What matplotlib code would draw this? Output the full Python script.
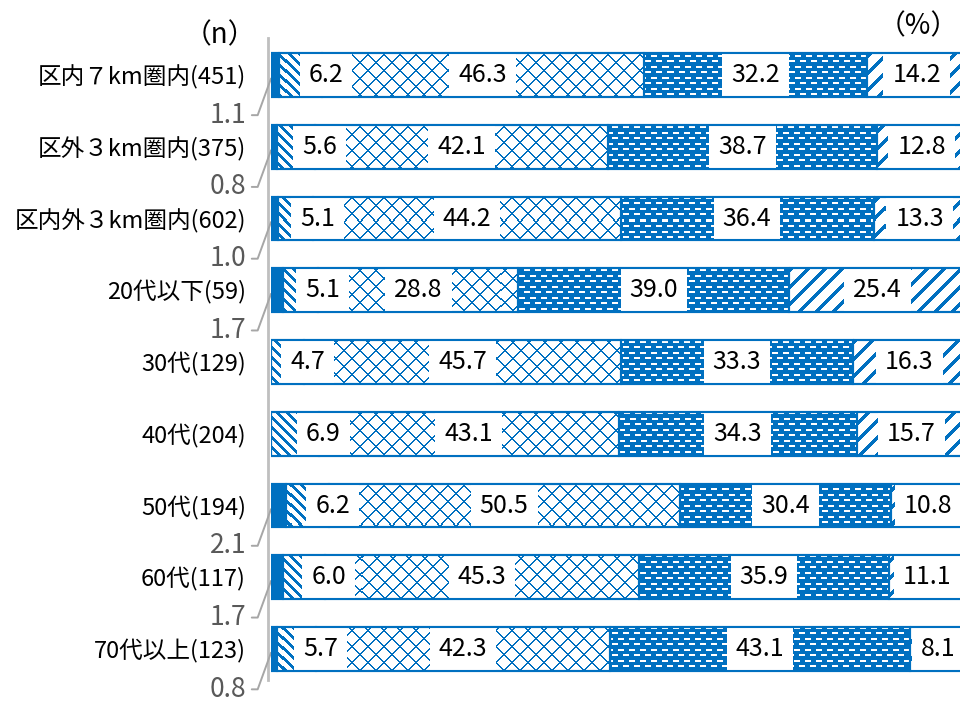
import numpy as np
import matplotlib
matplotlib.use('Agg')
import matplotlib.pyplot as plt
from matplotlib.colors import to_rgba

plt.rcParams['font.family'] = ['Noto Sans CJK JP', 'DejaVu Sans']

categories = ['区内７km圏内(451)', '区外３km圏内(375)', '区内外３km圏内(602)',
              '20代以下(59)', '30代(129)', '40代(204)', '50代(194)',
              '60代(117)', '70代以上(123)']
share_1 = [1.1, 0.8, 1.0, 1.7, 0.0, 0.0, 2.1, 1.7, 0.8]
share_2 = [6.2, 5.6, 5.1, 5.1, 4.7, 6.9, 6.2, 6.0, 5.7]
share_3 = [46.3, 42.1, 44.2, 28.8, 45.7, 43.1, 50.5, 45.3, 42.3]
share_4 = [32.2, 38.7, 36.4, 39.0, 33.3, 34.3, 30.4, 35.9, 43.1]
share_5 = [14.2, 12.8, 13.3, 25.4, 16.3, 15.7, 10.8, 11.1, 8.1]

BLUE = '#0070C0'
# axes box in pixels (left, bottom, width, height)
AX_PX = (271, 21, 695, 642)
YLIM = (8.43, -0.515)


def pattern_mask(kind, h, w):
    r, c = np.mgrid[0:h, 0:w]
    if kind == 'back':
        return (c - r) % 10 < 4
    if kind == 'lattice':
        return ((c - r) % 16 < 2) | ((c + r) % 16 < 2)
    if kind == 'bricks':
        m = r % 11
        return (((m < 2) & (c % 11 < 6)) |
                ((m >= 6) & (m < 8) & ((c + 5) % 11 < 6)))
    if kind == 'fwd':
        return (c + r) % 17 < 5
    return None


def pattern_image(kind, color):
    h, w = AX_PX[3], AX_PX[2]
    mask = pattern_mask(kind, h, w)
    rgba = np.zeros((h, w, 4))
    rgba[mask] = to_rgba(color)
    return rgba


fig = plt.figure(figsize=(9.6, 7.01), dpi=100)
ax = fig.add_axes([AX_PX[0] / 960, AX_PX[1] / 701, AX_PX[2] / 960, AX_PX[3] / 701])

segments = [share_1, share_2, share_3, share_4, share_5]
styles = [(BLUE, None, None),
          ('white', 'back', BLUE),
          ('white', 'lattice', BLUE),
          (BLUE, 'bricks', 'white'),
          ('white', 'fwd', BLUE)]

y = np.arange(len(categories))
left = np.zeros(len(categories))
for k, (vals, (face, kind, pcolor)) in enumerate(zip(segments, styles)):
    vals = np.array(vals)
    bars = ax.barh(y, vals, left=left, height=0.61, color=face,
                   edgecolor='none', zorder=1)
    if kind:
        img = pattern_image(kind, pcolor)
        for bar in bars:
            im = ax.imshow(img, extent=(0, 100, YLIM[0], YLIM[1]),
                           origin='upper', aspect='auto',
                           interpolation='nearest', zorder=1.5)
            im.set_clip_path(bar)
    ax.barh(y, vals, left=left, height=0.61, fill=False,
            edgecolor=BLUE, lw=1.5, zorder=2)

    for i, v in enumerate(vals):
        if k == 0:
            if v > 0:
                ax.annotate(f'{v:.1f}', xy=(0, i + 0.05), xytext=(-6.2, i + 0.56),
                            ha='center', va='center', color='#595959', fontsize=19,
                            annotation_clip=False,
                            arrowprops=dict(arrowstyle='-', color='#A6A6A6', lw=1.4,
                                            shrinkA=2, shrinkB=0, relpos=(1, 0.5),
                                            connectionstyle='angle,angleA=0,angleB=70,rad=0'))
            continue
        if k == 1:
            xc = left[i] + v + 0.6
        else:
            xc = left[i] + v / 2
        ax.text(xc, i, f'{v:.1f}', ha='center', va='center', fontsize=18,
                color='black', zorder=3,
                bbox=dict(boxstyle='square,pad=0.36', fc='white', ec='none'))
    left += vals

# whole-bar outline on top so the top/bottom edges run over the label boxes
ax.barh(y, left, height=0.61, fill=False, edgecolor=BLUE, lw=1.5, zorder=4)

ax.set_xlim(0, 100)
ax.set_ylim(*YLIM)
ax.set_yticks(y, categories)
ax.tick_params(axis='y', length=0, pad=16, labelsize=17)
ax.set_xticks([])
for side in ['top', 'right', 'bottom']:
    ax.spines[side].set_visible(False)
ax.spines['left'].set_color('#BFBFBF')
ax.spines['left'].set_linewidth(2)
ax.spines['left'].set_position(('outward', 2))

fig.text(220 / 960, 1 - 35 / 701, '（n）', ha='center', va='center', fontsize=20)
fig.text(959 / 960, 1 - 26 / 701, '（%）', ha='right', va='center', fontsize=20)

fig.savefig('out.png', dpi=100)
